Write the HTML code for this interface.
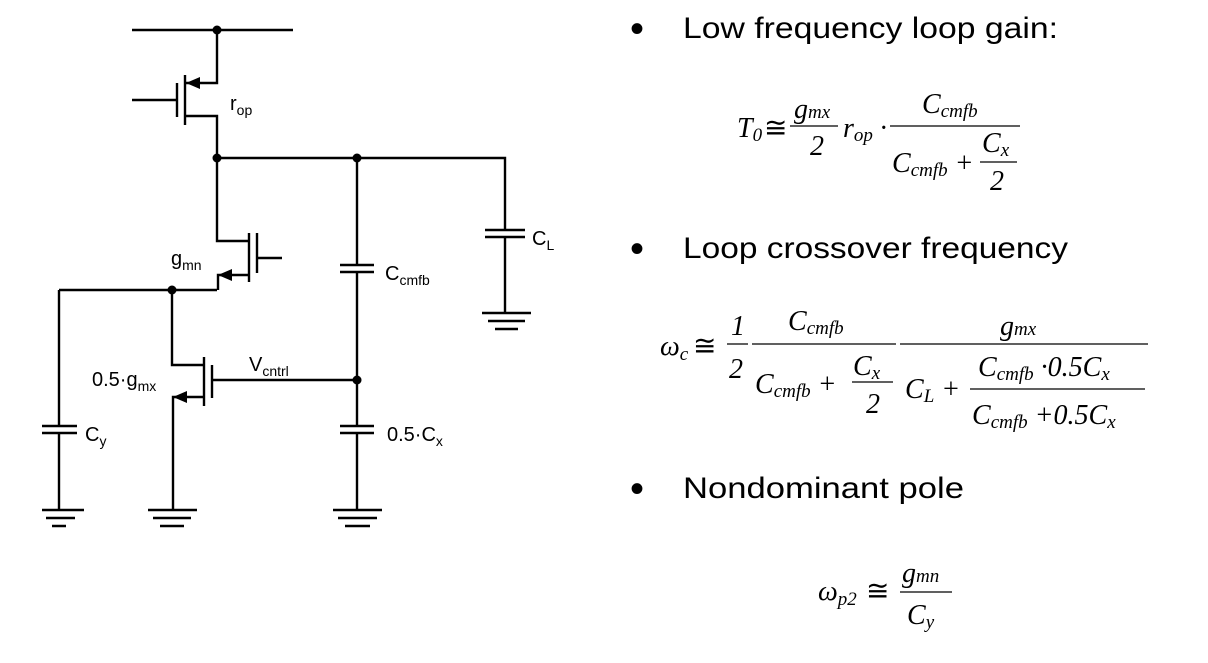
<!DOCTYPE html>
<html><head><meta charset="utf-8"><style>
html,body{margin:0;padding:0;background:#fff;}
svg{display:block;}
.w{stroke:#000;stroke-width:2.4;fill:none;}
.lab{font-family:"Liberation Sans",sans-serif;font-size:20px;fill:#000;}
.sub{font-size:14px;}
.bul{font-family:"Liberation Sans",sans-serif;font-size:30px;fill:#000;}
.dot{font-family:"Liberation Sans",sans-serif;font-size:40px;fill:#000;}
.m{font-family:"Liberation Serif",serif;font-style:italic;font-size:28px;fill:#000;}
.ms{font-size:19px;}
.bar{stroke:#000;stroke-width:1.3;}
</style></head><body>
<svg width="1208" height="663" viewBox="0 0 1208 663">
<g>
 <path class="w" d="M132 30H293"/>
 <circle cx="217" cy="30" r="4.5"/>
 <g>
  <path class="w" d="M217 30V83H186M185 75V125M177 83V117M132 100H177M186 116H217V158"/>
  <polygon points="186,83 200,77 200,89"/>
 </g>
 <circle cx="217" cy="158" r="4.5"/>
 <path class="w" d="M217 158H505V230M505 237V313"/>
 <circle cx="357" cy="158" r="4.5"/>
 <g><path class="w" d="M485 230H525M485 237H525"/>
 <path class="w" d="M482 313H531M488 321H525M495 329H518"/></g>
 <g>
  <path class="w" d="M217 158V241H249M249 233V282M257 233V273M257 258H282M249 275H218V290"/>
  <polygon points="218,275 232,269 232,281"/>
 </g>
 <path class="w" d="M59 290H217M59 290V426M59 433V510"/>
 <circle cx="172" cy="290" r="4.5"/>
 <g><path class="w" d="M42 426H77M42 433H77M42 510H84M46 518H75M52 526H66"/></g>
 <g>
  <path class="w" d="M172 290V365H204M204 357V406M212 365V398M212 380H357M204 397H173V510"/>
  <polygon points="173,397 187,391 187,403"/>
  <path class="w" d="M148 510H197M153 518H191M160 526H184"/>
 </g>
 <g>
  <path class="w" d="M357 158V265M340 265H374M340 272H374M357 272V426M340 426H374M340 433H374M357 433V510M333 510H382M338 518H377M345 526H370"/>
 </g>
 <circle cx="357" cy="380" r="4.5"/>
 <text class="lab" x="230" y="110">r<tspan class="sub" dy="5">op</tspan></text>
 <text class="lab" x="171" y="265">g<tspan class="sub" dy="5">mn</tspan></text>
 <text class="lab" x="532" y="245">C<tspan class="sub" dy="5">L</tspan></text>
 <text class="lab" x="385" y="280">C<tspan class="sub" dy="5">cmfb</tspan></text>
 <text class="lab" x="249" y="371">V<tspan class="sub" dy="5">cntrl</tspan></text>
 <text class="lab" x="92" y="386">0.5·g<tspan class="sub" dy="5">mx</tspan></text>
 <text class="lab" x="85" y="441">C<tspan class="sub" dy="5">y</tspan></text>
 <text class="lab" x="387" y="441">0.5·C<tspan class="sub" dy="5">x</tspan></text>
</g>
<g>
 <text class="dot" x="630" y="42">•</text>
 <text class="bul" x="683" y="38" textLength="375" lengthAdjust="spacingAndGlyphs">Low frequency loop gain:</text>
 <text class="dot" x="630" y="262">•</text>
 <text class="bul" x="683" y="258" textLength="385" lengthAdjust="spacingAndGlyphs">Loop crossover frequency</text>
 <text class="dot" x="630" y="502">•</text>
 <text class="bul" x="683" y="498" textLength="281" lengthAdjust="spacingAndGlyphs">Nondominant pole</text>
</g>
<g>
 <text class="m" x="737" y="137">T<tspan class="ms" dy="4">0</tspan></text>
 <text class="m" x="764" y="137" style="font-style:normal">≅</text>
 <text class="m" x="794" y="118">g<tspan class="ms">mx</tspan></text>
 <line class="bar" x1="790" y1="126" x2="838" y2="126"/>
 <text class="m" x="810" y="155">2</text>
 <text class="m" x="843" y="137">r<tspan class="ms" dy="4">op</tspan><tspan dy="-4"> ·</tspan></text>
 <text class="m" x="922" y="113">C<tspan class="ms" dy="4">cmfb</tspan></text>
 <line class="bar" x1="890" y1="126" x2="1020" y2="126"/>
 <text class="m" x="892" y="172">C<tspan class="ms" dy="4">cmfb</tspan><tspan dy="-4"> +</tspan></text>
 <text class="m" x="982" y="152">C<tspan class="ms" dy="4">x</tspan></text>
 <line class="bar" x1="980" y1="162" x2="1017" y2="162"/>
 <text class="m" x="990" y="190">2</text>
</g>
<g>
 <text class="m" x="660" y="355">ω<tspan class="ms" dy="5">c</tspan></text>
 <text class="m" x="693" y="355" style="font-style:normal">≅</text>
 <text class="m" x="731" y="335">1</text>
 <line class="bar" x1="727" y1="344" x2="748" y2="344"/>
 <text class="m" x="729" y="378">2</text>
 <text class="m" x="788" y="330">C<tspan class="ms" dy="4">cmfb</tspan></text>
 <line class="bar" x1="752" y1="344" x2="896" y2="344"/>
 <text class="m" x="755" y="393">C<tspan class="ms" dy="4">cmfb</tspan><tspan dy="-4"> +</tspan></text>
 <text class="m" x="853" y="375">C<tspan class="ms" dy="4">x</tspan></text>
 <line class="bar" x1="852" y1="382" x2="893" y2="382"/>
 <text class="m" x="866" y="413">2</text>
 <text class="m" x="1000" y="335">g<tspan class="ms">mx</tspan></text>
 <line class="bar" x1="900" y1="344" x2="1148" y2="344"/>
 <text class="m" x="905" y="398">C<tspan class="ms" dy="4">L</tspan><tspan dy="-4"> +</tspan></text>
 <text class="m" x="978" y="376">C<tspan class="ms" dy="4">cmfb</tspan><tspan dy="-4"> ·0.5C</tspan><tspan class="ms" dy="4">x</tspan></text>
 <line class="bar" x1="970" y1="389" x2="1145" y2="389"/>
 <text class="m" x="972" y="424">C<tspan class="ms" dy="4">cmfb</tspan><tspan dy="-4"> +0.5C</tspan><tspan class="ms" dy="4">x</tspan></text>
</g>
<g>
 <text class="m" x="818" y="600">ω<tspan class="ms" dy="5">p2</tspan></text>
 <text class="m" x="866" y="600" style="font-style:normal">≅</text>
 <text class="m" x="902" y="582">g<tspan class="ms">mn</tspan></text>
 <line class="bar" x1="900" y1="592" x2="952" y2="592"/>
 <text class="m" x="907" y="624">C<tspan class="ms" dy="4">y</tspan></text>
</g>
</svg>
</body></html>
